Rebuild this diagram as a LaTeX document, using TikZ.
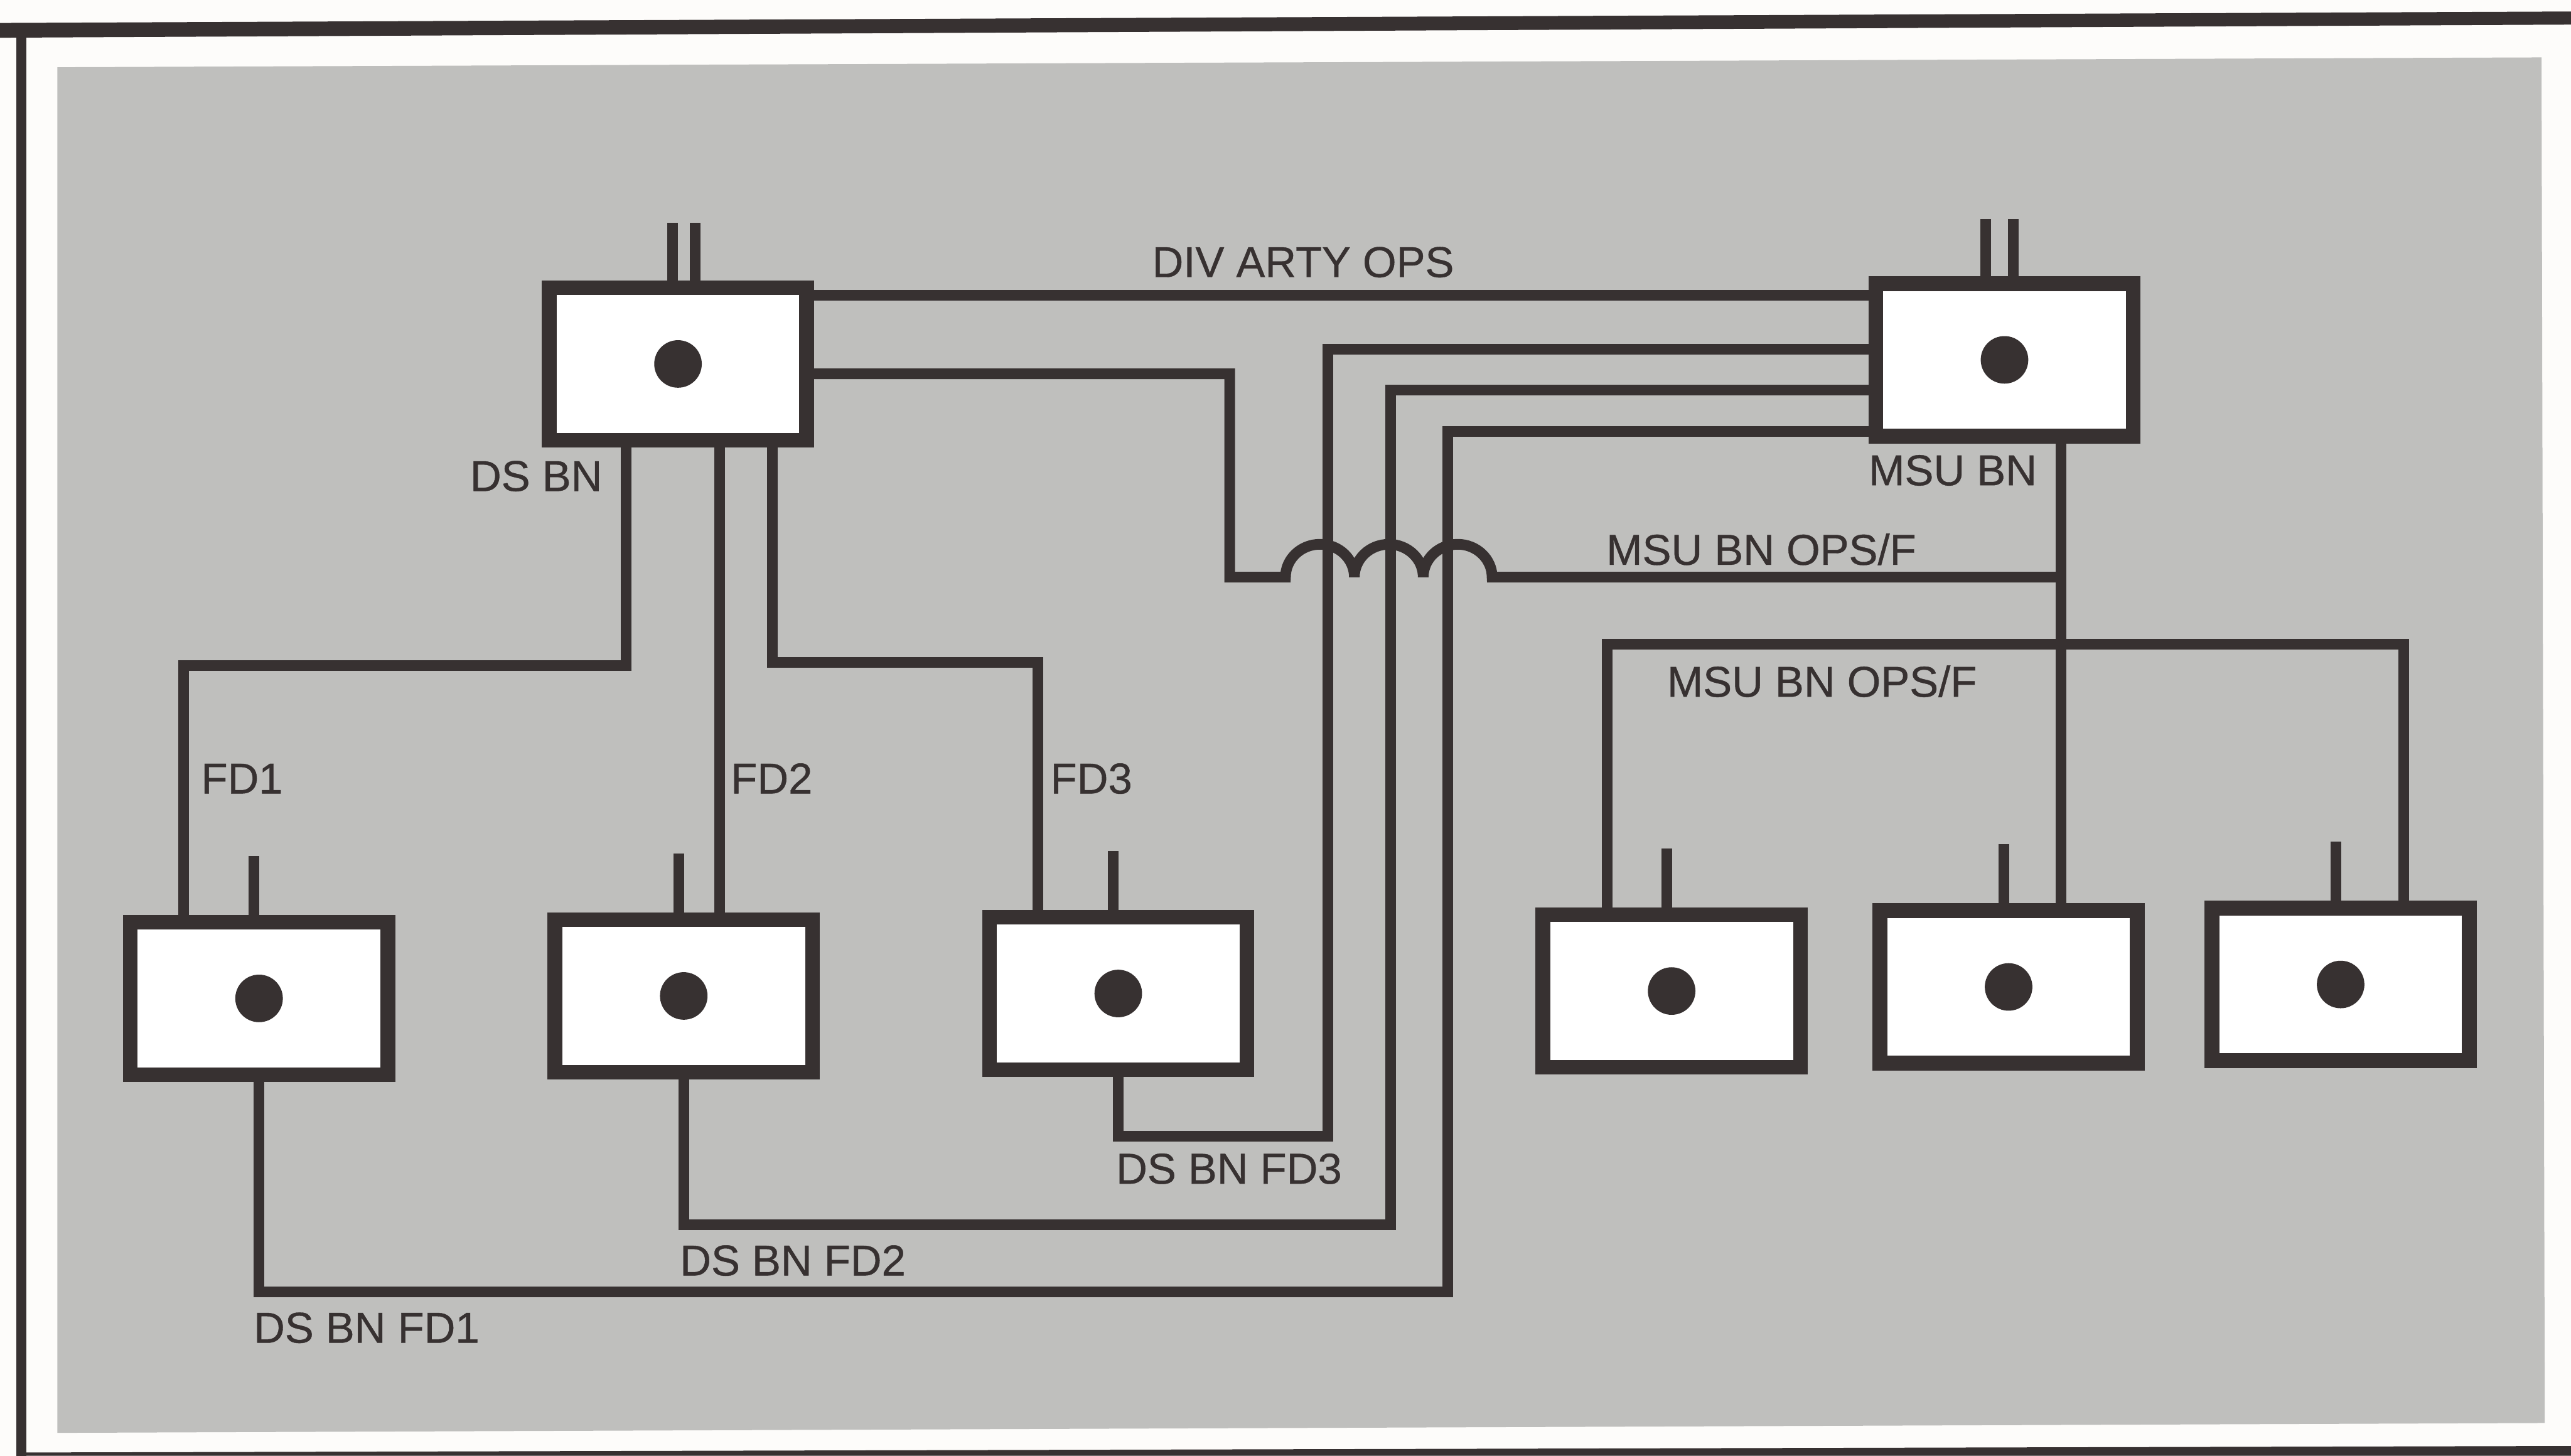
\documentclass[tikz,border=0pt]{standalone}
\usepackage{fontspec}
\newfontfamily\lblfont[FakeBold=0.6]{Liberation Sans}
\usetikzlibrary{positioning}

\definecolor{ink}{RGB}{55,49,49}
\definecolor{sheet}{RGB}{191,191,189}
\definecolor{paper}{RGB}{253,252,250}

\tikzset{
  radiobox/.style={draw=ink, line width=0.9mm, fill=white, minimum width=15.7mm, minimum height=9.3mm, inner sep=0pt},
  wire/.style={draw=ink, line width=0.65mm},
  lbl/.style={inner sep=0pt, anchor=base west, text=ink, font=\lblfont\fontsize{7.5pt}{9pt}\selectfont},
}

\begin{document}
\begin{tikzpicture}[x=0.1mm, y=-0.1mm]
  \useasboundingbox[fill=paper] (0,0) rectangle (1568,888);

  % page frame and shaded panel
  \fill[ink] (0,23) -- (0,14) -- (1568,7) -- (1568,15) -- cycle;
  \fill[ink] (10,18) rectangle (16,888);
  \fill[ink] (10,886) -- (1568,882) -- (1568,888) -- (10,888) -- cycle;
  \fill[sheet] (35,41) -- (1550,35) -- (1552,868) -- (35,874) -- cycle;

  % stations
  \node[radiobox] (dsbn)  at (413.5,222) {};
  \node[radiobox] (msubn) at (1222.5,219.5) {};
  \node[radiobox] (fd1)   at (158,609) {};
  \node[radiobox] (fd2)   at (417,607.5) {};
  \node[radiobox] (fd3)   at (682,606) {};
  \node[radiobox] (msua)  at (1019.5,604.5) {};
  \node[radiobox] (msub)  at (1225,602) {};
  \node[radiobox] (msuc)  at (1427.5,600.5) {};

  \foreach \n in {dsbn,msubn,fd1,fd2,fd3,msua,msub,msuc}
    \fill[ink] (\n.center) circle[radius=1.45mm];
  \foreach \n in {fd1,fd2,fd3,msua,msub,msuc}
    \draw[wire] ([xshift=-0.3mm]\n.north) -- ++(0,3.6mm);
  \foreach \n/\a/\b in {dsbn/-0.35mm/1.05mm, msubn/-1.15mm/0.55mm} {
    \draw[wire] ([xshift=\a]\n.north) -- ++(0,3.5mm);
    \draw[wire] ([xshift=\b]\n.north) -- ++(0,3.5mm);
  }

  % DS BN nets
  \draw[wire] (dsbn.east |- 0,180) -- (msubn.west |- 0,180);
  \draw[wire] (dsbn.east |- 0,228) -| (750,352) -- (784,352)
    arc[start angle=180, end angle=0, x radius=2.1mm, y radius=2mm]
    arc[start angle=180, end angle=0, x radius=2.1mm, y radius=2mm]
    arc[start angle=180, end angle=0, x radius=2.1mm, y radius=2mm]
    -- (1257,352);
  \draw[wire] (dsbn.south -| 382,0) |- (112,406) -- (fd1.north -| 112,0);
  \draw[wire] (dsbn.south -| 439,0) -- (fd2.north -| 439,0);
  \draw[wire] (dsbn.south -| 471,0) |- (633,404) -- (fd3.north -| 633,0);

  % FD returns to MSU BN
  \draw[wire] (fd1.south) |- (883,788) |- (msubn.west |- 0,263);
  \draw[wire] (fd2.south) |- (848,747) |- (msubn.west |- 0,238);
  \draw[wire] (fd3.south) |- (810,693) |- (msubn.west |- 0,213);

  % MSU BN nets
  \draw[wire] (msubn.south -| 1257,0) -- (msub.north -| 1257,0);
  \draw[wire] (msua.north -| 980,0) |- (1466,393) -- (msuc.north -| 1466,0);

  % labels
  \node[lbl] (divops) at (702,169) {DIV ARTY OPS};
  \node[lbl, anchor=base east] (dsbnlbl) at (368,299.5) {DS BN};
  \node[lbl] (msubnlbl) at (1139,296) {MSU BN};
  \node[lbl] (opsup) at (979,344.5) {MSU BN OPS/F};
  \node[lbl] (opslow) at (1016,425) {MSU BN OPS/F};
  \node[lbl] (fd1lbl) at (122,484) {FD1};
  \node[lbl] (fd2lbl) at (445,484) {FD2};
  \node[lbl] (fd3lbl) at (640,484) {FD3};
  \node[lbl] (fd3ret) at (680,722) {DS BN FD3};
  \node[lbl] (fd2ret) at (414,778) {DS BN FD2};
  \node[lbl] (fd1ret) at (154,819) {DS BN FD1};
\end{tikzpicture}
\end{document}
